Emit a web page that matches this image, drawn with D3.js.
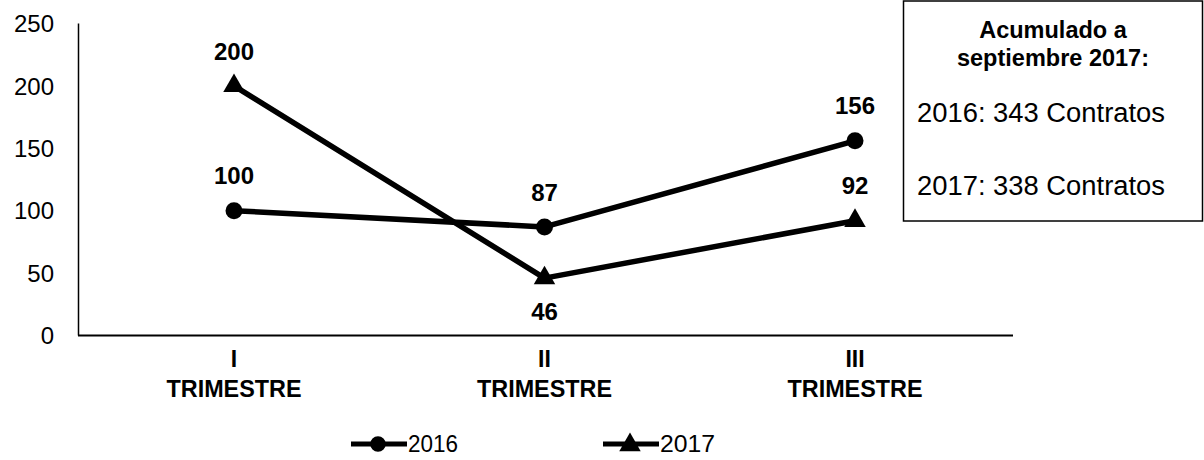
<!DOCTYPE html>
<html><head><meta charset="utf-8">
<script src="https://cdn.jsdelivr.net/npm/d3@7"></script>
<style>body{margin:0;background:#fff}svg{display:block}text{font-family:"Liberation Sans",Arial,sans-serif;fill:#000}</style>
</head><body>
<script>
const categories = [["I","TRIMESTRE"],["II","TRIMESTRE"],["III","TRIMESTRE"]];
const series2016 = [100, 87, 156];
const series2017 = [200, 46, 92];
const yTicks = [0, 50, 100, 150, 200, 250];
const seriesNames = ["2016", "2017"];
const labelSide2016 = ["above","above","above"];
const labelSide2017 = ["above","below","above"];
const boxTitle = ["Acumulado a", "septiembre 2017:"];
const boxLines = ["2016: 343 Contratos", "2017: 338 Contratos"];

const W = 1204, H = 460;
const svg = d3.select("body").append("svg").attr("width", W).attr("height", H);

const x = d3.scalePoint().domain([0,1,2]).range([234, 855]);
const y = d3.scaleLinear().domain([0, 250]).range([335.5, 23.5]);

// y axis
svg.append("line").attr("x1",78.5).attr("x2",78.5).attr("y1",y(250)).attr("y2",y(0)).attr("stroke","#000").attr("stroke-width",1.5);
svg.selectAll(".yt").data(yTicks).enter().append("text")
  .attr("x",54).attr("y",d=>y(d)).attr("dy","0.36em").attr("text-anchor","end")
  .style("font-size","24px").text(d=>d);
// x axis
svg.append("line").attr("x1",78).attr("x2",1013).attr("y1",y(0)).attr("y2",y(0)).attr("stroke","#000").attr("stroke-width",2);
const xl = svg.selectAll(".xl").data(categories).enter().append("g");
xl.append("text").attr("x",(d,i)=>x(i)).attr("y",367).attr("text-anchor","middle")
  .style("font-size","23px").style("font-weight","bold").text(d=>d[0]);
xl.append("text").attr("x",(d,i)=>x(i)).attr("y",397).attr("text-anchor","middle")
  .style("font-size","24px").style("font-weight","bold").attr("textLength",135).attr("lengthAdjust","spacingAndGlyphs").text(d=>d[1]);

const line = d3.line().x((d,i)=>x(i)).y(d=>y(d));
function drawSeries(vals, shape, sides){
  svg.append("path").datum(vals).attr("d",line).attr("fill","none").attr("stroke","#000").attr("stroke-width",5.5).attr("stroke-linejoin","round");
  svg.selectAll(null).data(vals).enter().append("path")
    .attr("transform",(d,i)=>`translate(${x(i)},${y(d)})`)
    .attr("d", d3.symbol().type(shape).size(shape===d3.symbolCircle?227:200))
    .attr("fill","#000");
  svg.selectAll(null).data(vals).enter().append("text")
    .attr("x",(d,i)=>x(i)).attr("y",(d,i)=> sides[i]==="above" ? y(d)-35 : y(d)+33)
    .attr("dy","0.36em").attr("text-anchor","middle")
    .style("font-size","24px").style("font-weight","bold").text(d=>d);
}
drawSeries(series2016, d3.symbolCircle, labelSide2016);
drawSeries(series2017, d3.symbolTriangle, labelSide2017);

// legend
const legX = [351, 603];
const legTextW = [50, 55];
const shapes = [d3.symbolCircle, d3.symbolTriangle];
seriesNames.forEach((n,i)=>{
  const g = svg.append("g").attr("transform",`translate(${legX[i]},444)`);
  g.append("line").attr("x1",0).attr("x2",56).attr("stroke","#000").attr("stroke-width",5);
  g.append("path").attr("transform",i===0?"translate(27,0)":"translate(27,1)").attr("d",d3.symbol().type(shapes[i]).size(i===0?190:200)).attr("fill","#000");
  g.append("text").attr("x",57).attr("y",0).attr("dy","0.36em").style("font-size","23px")
    .attr("textLength",legTextW[i]).attr("lengthAdjust","spacingAndGlyphs").text(n);
});

// box
svg.append("rect").attr("x",903.5).attr("y",1).attr("width",299).attr("height",220)
  .attr("fill","#fff").attr("stroke","#000").attr("stroke-width",1.5);
boxTitle.forEach((t,i)=>{
  svg.append("text").attr("x",1053).attr("y",38+i*28).attr("text-anchor","middle")
    .style("font-size","23.5px").style("font-weight","bold").text(t);
});
boxLines.forEach((t,i)=>{
  svg.append("text").attr("x",917).attr("y",122+i*73)
    .style("font-size","27px").attr("textLength",248).attr("lengthAdjust","spacingAndGlyphs").text(t);
});
</script>
</body></html>
